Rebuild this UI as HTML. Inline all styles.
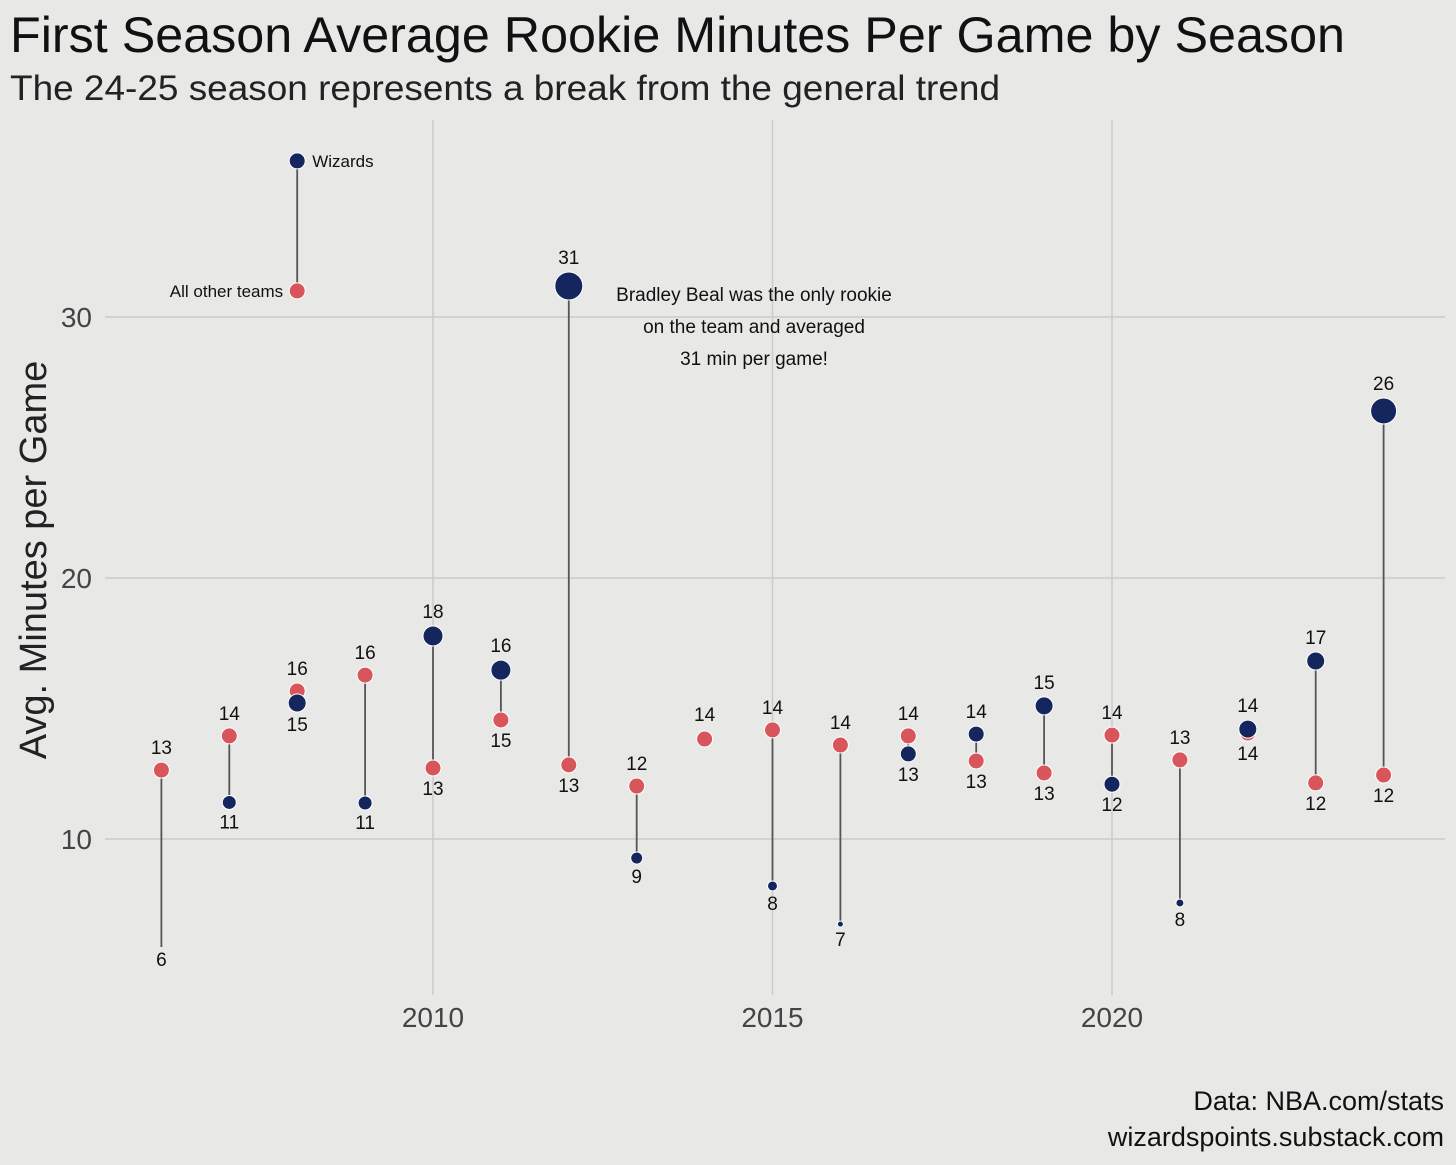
<!DOCTYPE html>
<html><head><meta charset="utf-8"><style>
html,body{margin:0;padding:0;background:#e8e8e6;}
svg{display:block;font-family:"Liberation Sans",sans-serif;}
</style></head><body>
<svg id="chart" width="1456" height="1165" viewBox="0 0 1456 1165">
<rect width="1456" height="1165" fill="#e8e8e6"/>
<text x="10" y="52" font-size="50" textLength="1335" lengthAdjust="spacingAndGlyphs" fill="#111">First Season Average Rookie Minutes Per Game by Season</text>
<text x="10" y="100" font-size="35" textLength="990" lengthAdjust="spacingAndGlyphs" fill="#222">The 24-25 season represents a break from the general trend</text>
<text transform="translate(46,560) rotate(-90)" text-anchor="middle" font-size="38" fill="#222">Avg. Minutes per Game</text>
<g id="grid"></g>
<g id="marks"></g>
<text x="1444" y="1110" text-anchor="end" font-size="27" fill="#111">Data: NBA.com/stats</text>
<text x="1444" y="1146" text-anchor="end" font-size="27" fill="#111">wizardspoints.substack.com</text>
</svg>
<script>
const years = [2006,2007,2008,2009,2010,2011,2012,2013,2014,2015,2016,2017,2018,2019,2020,2021,2022,2023,2024];
const otherMin = [12.64,13.95,15.67,16.28,12.72,14.56,12.84,12.03,13.83,14.18,13.6,13.95,12.99,12.53,13.98,13.03,14.06,12.15,12.45];
const wizMin = [5.86,11.4,15.21,11.38,17.78,16.47,31.19,9.27,null,8.2,6.74,13.26,14.02,15.1,12.1,7.55,14.21,16.82,26.4];
const wizSize = [0,7,9,7,10,10,14,6,0,5,3,8,8,9,8,4,9,9,13];
const yTicks = [10,20,30];
const xTicks = [2010,2015,2020];

const NS="http://www.w3.org/2000/svg";
const xS = y => 433 + (y-2010)*67.9;
const yS = v => 839 - (v-10)*26.1;
const RED="#d9555c", NAVY="#15265e";
function mk(tag, attrs, parent){const e=document.createElementNS(NS,tag);for(const k in attrs)e.setAttribute(k,attrs[k]);parent.appendChild(e);return e;}
const grid=document.getElementById('grid'), marks=document.getElementById('marks');
yTicks.forEach(t=>{
  const l=mk('line',{x1:105,x2:1445,y1:yS(t),y2:yS(t),stroke:'#cbcbc9','stroke-width':1.5},grid);
  
  
  const tx=mk('text',{x:92,y:yS(t)+10,'text-anchor':'end','font-size':28,fill:'#444'},grid);
  tx.textContent=t;
  
  
});
xTicks.forEach(t=>{
  const l=mk('line',{x1:xS(t),x2:xS(t),y1:120,y2:995,stroke:'#cbcbc9','stroke-width':1.5},grid);
  
  
  const tx=mk('text',{x:xS(t),y:1027,'text-anchor':'middle','font-size':28,fill:'#444'},grid);
  tx.textContent=t;
  
  
});
function label(x,y,v){
  const t=mk('text',{x:x,y:y,'text-anchor':'middle','font-size':19,fill:'#111'},marks);
  t.textContent=Math.round(v);
  
  
}
years.forEach((yr,i)=>{
  const x=xS(yr), o=otherMin[i], w=wizMin[i];
  if(w!==null){
    const ln=mk('line',{x1:x,x2:x,y1:yS(o),y2:yS(w),stroke:'#555','stroke-width':1.8},marks);
    
    
  }
  const c=mk('circle',{cx:x,cy:yS(o),r:8,fill:RED,stroke:'#fff','stroke-width':1},marks);
  
  
  if(w!==null && wizSize[i]>0){
    const d=mk('circle',{cx:x,cy:yS(w),r:wizSize[i],fill:NAVY,stroke:'#fff','stroke-width':1},marks);
    
    
  }
  if(w===null){label(x,yS(o)-18,o);return;}
  const hi=Math.max(o,w), lo=Math.min(o,w);
  const hiR = hi===w ? wizSize[i] : 8, loR = lo===w ? wizSize[i] : 8;
  label(x,yS(hi)-hiR-8,hi);
  label(x,yS(lo)+loR+19,lo);
});
const lx=xS(2008);
const lg=mk('g',{},marks);


mk('line',{x1:lx,x2:lx,y1:yS(35.98),y2:yS(31),stroke:'#555','stroke-width':1.8},lg);
const lw=mk('circle',{cx:lx,cy:yS(35.98),r:8,fill:NAVY,stroke:'#fff','stroke-width':1},lg);


const lo=mk('circle',{cx:lx,cy:yS(31),r:8,fill:RED,stroke:'#fff','stroke-width':1},lg);


const t1=mk('text',{x:lx+15,y:yS(35.98)+6,'font-size':17,fill:'#111'},lg);t1.textContent='Wizards';


const t2=mk('text',{x:lx-14,y:yS(31)+6,'font-size':17,fill:'#111','text-anchor':'end'},lg);t2.textContent='All other teams';


['Bradley Beal was the only rookie','on the team and averaged','31 min per game!'].forEach((s,k)=>{
  const t=mk('text',{x:754,y:301+k*32,'text-anchor':'middle','font-size':19,fill:'#111'},marks);
  t.textContent=s;
  
  
});
</script>
</body></html>
